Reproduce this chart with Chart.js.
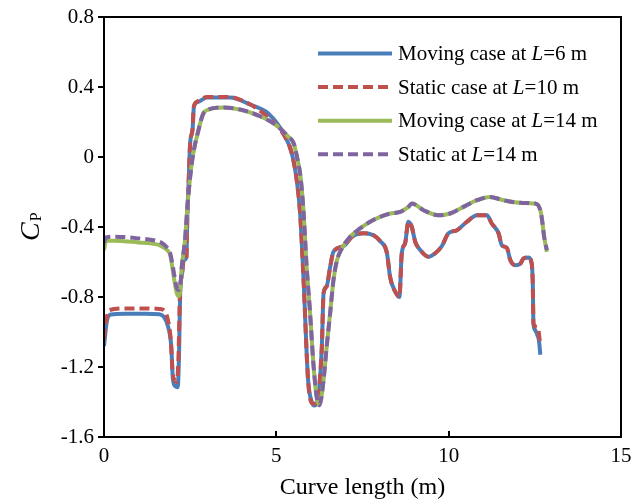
<!DOCTYPE html>
<html>
<head>
<meta charset="utf-8">
<script src="https://cdn.jsdelivr.net/npm/chart.js@4.4.1/dist/chart.umd.min.js"></script>
<style>
  html, body { margin: 0; padding: 0; background: #fff; }
  #wrap { width: 642px; height: 503px; }
</style>
</head>
<body>
<div id="wrap"><canvas id="chart"></canvas></div>
<script>
// Cp along the curve length as [x, y]
const movingL6 = [
  [0,-1.08],[0.09,-0.93],[0.2,-0.90],[0.6,-0.895],[1.2,-0.895],[1.6,-0.898],[1.72,-0.91],[1.86,-0.97],
  [1.95,-1.08],[2.0,-1.27],[2.07,-1.31],[2.14,-1.315],[2.18,-1.10],[2.21,-0.78],[2.27,-0.66],[2.31,-0.59],
  [2.39,-0.575],[2.42,-0.32],[2.46,-0.12],[2.50,0.08],[2.57,0.16],[2.61,0.29],[2.73,0.315],[2.98,0.34],
  [3.66,0.34],[4.24,0.30],[4.76,0.25],[5.25,0.12],[5.45,0.02],[5.59,-0.13],[5.69,-0.32],[5.79,-0.70],
  [5.92,-1.27],[6.03,-1.40],[6.10,-1.42],[6.19,-1.40],[6.32,-1.085],[6.37,-0.78],[6.46,-0.74],[6.56,-0.63],
  [6.66,-0.54],[6.95,-0.51],[7.19,-0.456],[7.53,-0.435],[7.82,-0.447],[8.01,-0.48],[8.21,-0.55],[8.30,-0.685],
  [8.45,-0.77],[8.57,-0.80],[8.64,-0.55],[8.74,-0.49],[8.83,-0.37],[8.93,-0.40],[9.03,-0.485],[9.17,-0.53],
  [9.41,-0.57],[9.61,-0.55],[9.80,-0.51],[9.99,-0.437],[10.24,-0.418],[10.53,-0.37],[10.82,-0.333],[11.11,-0.333],
  [11.25,-0.38],[11.45,-0.437],[11.54,-0.504],[11.69,-0.52],[11.79,-0.59],[11.93,-0.618],[12.08,-0.61],[12.17,-0.58],
  [12.32,-0.574],[12.41,-0.61],[12.44,-0.72],[12.46,-0.95],[12.51,-0.99],[12.58,-1.02],[12.62,-1.05],[12.66,-1.13]
];
const staticL10 = [
  [0,-1.04],[0.05,-0.95],[0.15,-0.875],[0.6,-0.865],[1.2,-0.865],[1.6,-0.868],[1.76,-0.88],[1.84,-0.92],
  [1.94,-1.05],[1.99,-1.23],[2.05,-1.275],[2.11,-1.285],[2.16,-1.15],[2.20,-0.80],[2.27,-0.66],[2.31,-0.59],
  [2.39,-0.575],[2.42,-0.32],[2.46,-0.12],[2.50,0.08],[2.57,0.16],[2.60,0.28],[2.69,0.315],[3.0,0.343],
  [3.63,0.343],[4.04,0.32],[4.62,0.25],[5.25,0.115],[5.45,0.02],[5.59,-0.13],[5.69,-0.32],[5.79,-0.70],
  [5.92,-1.27],[6.03,-1.406],[6.13,-1.41],[6.19,-1.39],[6.32,-1.085],[6.37,-0.78],[6.46,-0.74],[6.56,-0.63],
  [6.66,-0.54],[6.95,-0.51],[7.19,-0.456],[7.53,-0.435],[7.82,-0.447],[8.01,-0.48],[8.21,-0.55],[8.30,-0.685],
  [8.45,-0.77],[8.57,-0.80],[8.64,-0.55],[8.74,-0.49],[8.83,-0.37],[8.93,-0.40],[9.03,-0.485],[9.17,-0.53],
  [9.41,-0.57],[9.61,-0.55],[9.80,-0.51],[9.99,-0.437],[10.24,-0.418],[10.53,-0.37],[10.82,-0.333],[11.11,-0.333],
  [11.25,-0.38],[11.45,-0.437],[11.54,-0.504],[11.69,-0.52],[11.79,-0.59],[11.93,-0.618],[12.08,-0.61],[12.17,-0.58],
  [12.32,-0.574],[12.41,-0.61],[12.44,-0.72],[12.46,-0.95],[12.53,-0.97],[12.60,-0.975],[12.62,-1.01],[12.66,-1.08]
];
const movingL14 = [
  [0,-0.532],[0.06,-0.479],[0.3,-0.478],[1.0,-0.488],[1.5,-0.498],[1.67,-0.51],[1.82,-0.53],[1.92,-0.56],
  [2.01,-0.665],[2.10,-0.77],[2.16,-0.795],[2.21,-0.77],[2.255,-0.63],[2.35,-0.475],[2.42,-0.285],[2.50,-0.114],
  [2.59,0.02],[2.74,0.153],[2.88,0.248],[3.03,0.271],[3.46,0.283],[3.95,0.271],[4.53,0.233],[5.01,0.18],
  [5.35,0.115],[5.50,0.08],[5.60,0.0],[5.70,-0.11],[5.785,-0.30],[5.88,-0.628],[5.98,-0.894],[6.075,-1.18],
  [6.17,-1.37],[6.25,-1.418],[6.37,-1.275],[6.46,-1.085],[6.56,-0.894],[6.66,-0.70],[6.76,-0.59],[6.90,-0.523],
  [7.14,-0.456],[7.43,-0.408],[7.72,-0.37],[8.01,-0.342],[8.30,-0.323],[8.59,-0.314],[8.83,-0.285],[8.93,-0.266],
  [9.27,-0.304],[9.70,-0.333],[10.04,-0.323],[10.43,-0.285],[10.82,-0.247],[11.20,-0.228],[11.59,-0.247],[12.08,-0.262],
  [12.51,-0.266],[12.66,-0.304],[12.71,-0.36],[12.77,-0.456],[12.85,-0.542]
];
const staticL14 = [
  [0,-0.49],[0.06,-0.46],[0.3,-0.455],[1.0,-0.465],[1.5,-0.478],[1.67,-0.49],[1.82,-0.515],[1.92,-0.55],
  [2.01,-0.64],[2.10,-0.74],[2.16,-0.76],[2.21,-0.745],[2.255,-0.63],[2.35,-0.475],[2.42,-0.285],[2.50,-0.114],
  [2.59,0.02],[2.74,0.153],[2.88,0.248],[3.03,0.271],[3.46,0.283],[3.95,0.271],[4.53,0.233],[5.01,0.18],
  [5.35,0.115],[5.50,0.08],[5.60,0.0],[5.70,-0.11],[5.785,-0.30],[5.88,-0.628],[5.98,-0.894],[6.075,-1.18],
  [6.17,-1.37],[6.25,-1.418],[6.37,-1.275],[6.46,-1.085],[6.56,-0.894],[6.66,-0.70],[6.76,-0.59],[6.90,-0.523],
  [7.14,-0.456],[7.43,-0.408],[7.72,-0.37],[8.01,-0.342],[8.30,-0.323],[8.59,-0.314],[8.83,-0.285],[8.93,-0.266],
  [9.27,-0.304],[9.70,-0.333],[10.04,-0.323],[10.43,-0.285],[10.82,-0.247],[11.20,-0.228],[11.59,-0.247],[12.08,-0.262],
  [12.51,-0.266],[12.66,-0.304],[12.71,-0.36],[12.77,-0.456],[12.85,-0.532]
];

const seriesLabels = ['Moving case at L=6 m', 'Static case at L=10 m', 'Moving case at L=14 m', 'Static at L=14 m'];
const seriesData = [movingL6, staticL10, movingL14, staticL14];
const seriesColors = ['#4a7ebb', '#c0504d', '#9bbb59', '#8064a2'];
const seriesDashed = [false, true, false, true];
const xTicks = [0, 5, 10, 15];

const serif = "'Liberation Serif', 'DejaVu Serif', serif";

const datasets = seriesData.map((pts, i) => ({
  label: seriesLabels[i],
  data: pts.map(p => ({ x: p[0], y: p[1] })),
  borderColor: seriesColors[i],
  borderWidth: 4,
  borderDash: seriesDashed[i] ? [10, 5] : [],
  pointRadius: 0,
  fill: false,
  cubicInterpolationMode: 'monotone',
  order: 4 - i
}));

// frame, inner x ticks, legend and y title
const extras = {
  id: 'extras',
  afterDraw(chart) {
    const ctx = chart.ctx;
    const a = chart.chartArea;
    const xs = chart.scales.x;
    ctx.save();
    ctx.strokeStyle = '#000';
    ctx.lineWidth = 2;
    ctx.setLineDash([]);
    ctx.strokeRect(a.left, a.top, a.right - a.left, a.bottom - a.top);
    xTicks.forEach(v => {
      const px = Math.round(xs.getPixelForValue(v));
      ctx.beginPath();
      ctx.moveTo(px, a.bottom);
      ctx.lineTo(px, a.bottom - 6);
      ctx.stroke();
    });

    // legend
    chart.data.datasets.forEach((ds, i) => {
      const y = 53.5 + i * 33.6;
      ctx.strokeStyle = ds.borderColor;
      ctx.lineWidth = 4;
      ctx.setLineDash(ds.borderDash);
      ctx.beginPath();
      ctx.moveTo(318, y);
      ctx.lineTo(392, y);
      ctx.stroke();
      ctx.setLineDash([]);
      const k = ds.label.indexOf('L=');
      const parts = [[ds.label.slice(0, k), ''], ['L', 'italic '], [ds.label.slice(k + 1), '']];
      let x = 398;
      ctx.fillStyle = '#000';
      ctx.textBaseline = 'middle';
      parts.forEach(p => {
        ctx.font = p[1] + '21px ' + serif;
        ctx.fillText(p[0], x, y + 1);
        x += ctx.measureText(p[0]).width;
      });
    });

    // y axis title: C with subscript P
    ctx.translate(39, 241);
    ctx.rotate(-Math.PI / 2);
    ctx.fillStyle = '#000';
    ctx.textBaseline = 'alphabetic';
    ctx.font = 'italic 28px ' + serif;
    ctx.fillText('C', 0, 0);
    const w = ctx.measureText('C').width;
    ctx.font = '16px ' + serif;
    ctx.fillText('P', w + 1, 2);
    ctx.restore();
  }
};

new Chart(document.getElementById('chart'), {
  type: 'line',
  data: { datasets },
  options: {
    responsive: true,
    maintainAspectRatio: false,
    animation: false,
    layout: { padding: { left: 0, right: 21, top: 17, bottom: 0 } },
    plugins: { legend: { display: false }, tooltip: { enabled: false } },
    scales: {
      x: {
        type: 'linear',
        min: 0,
        max: 15,
        afterBuildTicks: s => { s.ticks = xTicks.map(v => ({ value: v })); },
        afterFit: s => { s.height = 66; },
        grid: { display: false, drawTicks: false },
        border: { display: false },
        ticks: { color: '#000', font: { family: serif, size: 21 }, padding: 7 },
        title: {
          display: true,
          text: 'Curve length (m)',
          color: '#000',
          font: { family: serif, size: 24 },
          padding: { top: 0, bottom: 1 }
        }
      },
      y: {
        min: -1.6,
        max: 0.8,
        afterFit: s => { s.width = 104; },
        grid: { display: true, drawOnChartArea: false, drawTicks: true, tickLength: 6, color: '#000', lineWidth: 2 },
        border: { display: false },
        ticks: {
          stepSize: 0.4,
          color: '#000',
          font: { family: serif, size: 21 },
          padding: 4,
          callback: v => (Math.abs(v) < 1e-9 ? '0' : Number(v.toFixed(1)).toString())
        }
      }
    }
  },
  plugins: [extras]
});
</script>
</body>
</html>
